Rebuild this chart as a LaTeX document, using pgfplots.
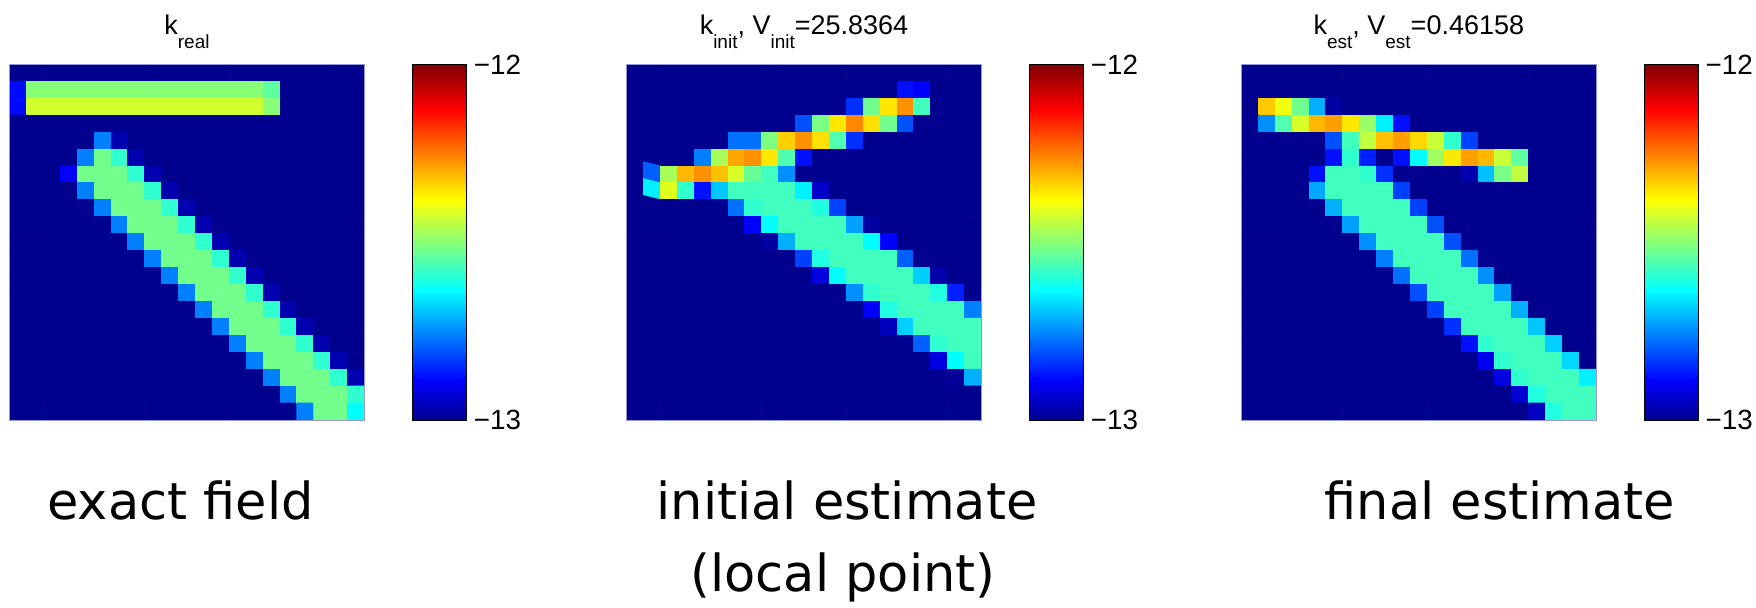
\documentclass[border=0pt]{standalone}
\usepackage{fontspec}
\setmainfont{Liberation Sans}
\newfontfamily\capfont{DejaVu Sans}
\usepackage{pgfplots}
\pgfplotsset{compat=1.18}
\pgfplotsset{
  colormap={mjet}{rgb255(0pt)=(0,0,143); rgb255(7pt)=(0,0,255); rgb255(23pt)=(0,255,255); rgb255(39pt)=(255,255,0); rgb255(55pt)=(255,0,0); rgb255(63pt)=(128,0,0)},
  heat/.style={
    scale only axis, width=177.5pt, height=177.85pt, anchor=north west,
    xmin=-0.5, xmax=20.5, ymin=-0.5, ymax=20.5, y dir=reverse,
    xtick=\empty, ytick=\empty, axis on top,
    axis line style={draw={rgb,255:red,150;green,150;blue,215}, line width=0.5pt},
    colormap name=mjet, point meta min=-13, point meta max=-12,
    title style={at={(0.5,1)}, anchor=base, yshift=9pt, inner sep=0pt, font=\fontsize{13.5}{13.5}\selectfont},
    colorbar,
    colorbar/width=26.85pt,
    colorbar style={
      at={(parent axis.north east)}, anchor=north west, xshift=15.5pt,
      scale only axis, width=26.85pt, height=177.85pt,
      ytick={-13,-12}, yticklabels={−13,−12},
      yticklabel pos=right,
      yticklabel style={font=\fontsize{13.9}{13.9}\selectfont, inner sep=0pt, anchor=west, xshift=3.6pt},
      major tick length=0pt, ytick style={draw=none},
      axis line style={draw=black, line width=0.5pt},
      xtick=\empty,
    },
  },
  cells/.style={matrix plot*, mesh/cols=21, mesh/rows=21, point meta=explicit},
}
\newcommand{\sub}[1]{\raisebox{-7.2pt}{\fontsize{9.5}{9.5}\selectfont #1}}
\begin{document}
\begin{tikzpicture}
\useasboundingbox (0,0) rectangle (878pt,303.5pt);

% ---------- exact field ----------
\begin{axis}[heat, at={(4.75pt,271.35pt)}, title={k\sub{real}}]
\addplot[cells] table[row sep=\\, x expr={mod(\coordindex,21)}, y expr={floor(\coordindex/21)}, meta index=0]{
-13\\ -13\\ -13\\ -13\\ -13\\  -13\\ -13\\ -13\\ -13\\ -13\\  -13\\ -13\\ -13\\ -13\\ -13\\  -13\\ -13\\ -13\\ -13\\ -13\\  -13\\
-12.88\\  -12.5\\ -12.5\\ -12.5\\ -12.5\\ -12.5\\  -12.5\\ -12.5\\ -12.5\\ -12.5\\ -12.5\\  -12.5\\ -12.5\\ -12.5\\ -12.5\\  -12.54\\  -13\\ -13\\ -13\\ -13\\ -13\\
-12.88\\  -12.428\\ -12.428\\ -12.428\\ -12.428\\ -12.428\\  -12.428\\ -12.428\\ -12.428\\ -12.428\\ -12.428\\  -12.428\\ -12.428\\ -12.428\\ -12.428\\  -12.5\\  -13\\ -13\\ -13\\ -13\\ -13\\
-13\\ -13\\ -13\\ -13\\ -13\\  -13\\ -13\\ -13\\ -13\\ -13\\  -13\\ -13\\ -13\\ -13\\ -13\\  -13\\ -13\\ -13\\ -13\\ -13\\  -13\\
-13\\ -13\\ -13\\ -13\\ -13\\  -12.761\\ -12.967\\  -13\\ -13\\ -13\\ -13\\ -13\\  -13\\ -13\\ -13\\ -13\\ -13\\  -13\\ -13\\ -13\\ -13\\
-13\\ -13\\ -13\\ -13\\  -12.761\\ -12.52\\ -12.587\\ -12.967\\  -13\\ -13\\ -13\\ -13\\ -13\\  -13\\ -13\\ -13\\ -13\\ -13\\  -13\\ -13\\ -13\\
-13\\ -13\\ -13\\  -12.889\\ -12.52\\ -12.52\\ -12.52\\ -12.587\\ -12.967\\  -13\\ -13\\ -13\\ -13\\ -13\\  -13\\ -13\\ -13\\ -13\\ -13\\  -13\\ -13\\
-13\\ -13\\ -13\\ -13\\  -12.761\\ -12.52\\ -12.52\\ -12.52\\ -12.587\\ -12.967\\  -13\\ -13\\ -13\\ -13\\ -13\\  -13\\ -13\\ -13\\ -13\\ -13\\  -13\\
-13\\ -13\\ -13\\ -13\\ -13\\  -12.761\\ -12.52\\ -12.52\\ -12.52\\ -12.587\\ -12.967\\  -13\\ -13\\ -13\\ -13\\ -13\\  -13\\ -13\\ -13\\ -13\\ -13\\
-13\\ -13\\ -13\\ -13\\ -13\\  -13\\  -12.761\\ -12.52\\ -12.52\\ -12.52\\ -12.587\\ -12.967\\  -13\\ -13\\ -13\\ -13\\ -13\\  -13\\ -13\\ -13\\ -13\\
-13\\ -13\\ -13\\ -13\\ -13\\  -13\\ -13\\  -12.761\\ -12.52\\ -12.52\\ -12.52\\ -12.587\\ -12.967\\  -13\\ -13\\ -13\\ -13\\ -13\\  -13\\ -13\\ -13\\
-13\\ -13\\ -13\\ -13\\ -13\\  -13\\ -13\\ -13\\  -12.761\\ -12.52\\ -12.52\\ -12.52\\ -12.587\\ -12.967\\  -13\\ -13\\ -13\\ -13\\ -13\\  -13\\ -13\\
-13\\ -13\\ -13\\ -13\\ -13\\  -13\\ -13\\ -13\\ -13\\  -12.761\\ -12.52\\ -12.52\\ -12.52\\ -12.587\\ -12.967\\  -13\\ -13\\ -13\\ -13\\ -13\\  -13\\
-13\\ -13\\ -13\\ -13\\ -13\\  -13\\ -13\\ -13\\ -13\\ -13\\  -12.761\\ -12.52\\ -12.52\\ -12.52\\ -12.587\\ -12.967\\  -13\\ -13\\ -13\\ -13\\ -13\\
-13\\ -13\\ -13\\ -13\\ -13\\  -13\\ -13\\ -13\\ -13\\ -13\\  -13\\  -12.761\\ -12.52\\ -12.52\\ -12.52\\ -12.587\\ -12.967\\  -13\\ -13\\ -13\\ -13\\
-13\\ -13\\ -13\\ -13\\ -13\\  -13\\ -13\\ -13\\ -13\\ -13\\  -13\\ -13\\  -12.761\\ -12.52\\ -12.52\\ -12.52\\ -12.587\\ -12.967\\  -13\\ -13\\ -13\\
-13\\ -13\\ -13\\ -13\\ -13\\  -13\\ -13\\ -13\\ -13\\ -13\\  -13\\ -13\\ -13\\  -12.761\\ -12.52\\ -12.52\\ -12.52\\ -12.587\\ -12.967\\  -13\\ -13\\
-13\\ -13\\ -13\\ -13\\ -13\\  -13\\ -13\\ -13\\ -13\\ -13\\  -13\\ -13\\ -13\\ -13\\  -12.761\\ -12.52\\ -12.52\\ -12.52\\ -12.587\\ -12.967\\  -13\\
-13\\ -13\\ -13\\ -13\\ -13\\  -13\\ -13\\ -13\\ -13\\ -13\\  -13\\ -13\\ -13\\ -13\\ -13\\  -12.761\\ -12.52\\ -12.52\\ -12.52\\ -12.587\\ -12.967\\
-13\\ -13\\ -13\\ -13\\ -13\\  -13\\ -13\\ -13\\ -13\\ -13\\  -13\\ -13\\ -13\\ -13\\ -13\\  -13\\  -12.761\\ -12.52\\ -12.52\\ -12.52\\ -12.587\\
-13\\ -13\\ -13\\ -13\\ -13\\  -13\\ -13\\ -13\\ -13\\ -13\\  -13\\ -13\\ -13\\ -13\\ -13\\  -13\\ -13\\  -12.761\\ -12.52\\ -12.52\\ -12.635\\
};
\end{axis}

% ---------- initial estimate ----------
\begin{axis}[heat, at={(313.25pt,271.35pt)}, title={k\sub{init}, V\sub{init}=25.8364}]
\addplot[cells] table[row sep=\\, x expr={mod(\coordindex,21)}, y expr={floor(\coordindex/21)}, meta index=0]{
-13\\ -13\\ -13\\ -13\\ -13\\  -13\\ -13\\ -13\\ -13\\ -13\\  -13\\ -13\\ -13\\ -13\\ -13\\  -13\\ -13\\ -13\\ -13\\ -13\\  -13\\
-13\\ -13\\ -13\\ -13\\ -13\\  -13\\ -13\\ -13\\ -13\\ -13\\  -13\\ -13\\ -13\\ -13\\ -13\\  -13\\  -12.873\\ -12.89\\  -13\\ -13\\ -13\\
-13\\ -13\\ -13\\ -13\\ -13\\  -13\\ -13\\ -13\\ -13\\ -13\\  -13\\ -13\\ -13\\  -12.841\\ -12.523\\ -12.358\\ -12.27\\ -12.571\\  -13\\ -13\\ -13\\
-13\\ -13\\ -13\\ -13\\ -13\\  -13\\ -13\\ -13\\ -13\\ -13\\  -12.809\\ -12.515\\ -12.358\\ -12.262\\ -12.35\\ -12.523\\ -12.809\\  -13\\ -13\\ -13\\ -13\\
-13\\ -13\\ -13\\ -13\\ -13\\  -13\\  -12.777\\ -12.777\\ -12.507\\ -12.334\\ -12.27\\ -12.35\\ -12.555\\ -12.841\\  -13\\ -13\\ -13\\ -13\\ -13\\  -13\\ -13\\
-13\\ -13\\ -13\\ -13\\  -12.761\\ -12.468\\ -12.294\\ -12.27\\ -12.358\\ -12.555\\ -12.873\\  -13\\ -13\\ -13\\ -13\\ -13\\  -13\\ -13\\ -13\\ -13\\ -13\\
-13\\  -12.793\\ -12.468\\ -12.31\\ -12.27\\ -12.318\\ -12.42\\ -12.531\\ -12.571\\ -12.746\\  -13\\ -13\\ -13\\ -13\\ -13\\  -13\\ -13\\ -13\\ -13\\ -13\\  -13\\
-13\\  -12.65\\ -12.412\\ -12.587\\ -12.873\\ -12.69\\ -12.571\\ -12.571\\ -12.571\\ -12.571\\ -12.65\\ -12.945\\  -13\\ -13\\ -13\\ -13\\ -13\\  -13\\ -13\\ -13\\ -13\\
-13\\ -13\\ -13\\ -13\\ -13\\  -13\\  -12.777\\ -12.587\\ -12.571\\ -12.571\\ -12.571\\ -12.603\\ -12.825\\  -13\\ -13\\ -13\\ -13\\ -13\\  -13\\ -13\\ -13\\
-13\\ -13\\ -13\\ -13\\ -13\\  -13\\ -13\\  -12.889\\ -12.635\\ -12.571\\ -12.571\\ -12.571\\ -12.571\\ -12.73\\ -12.983\\  -13\\ -13\\ -13\\ -13\\ -13\\  -13\\
-13\\ -13\\ -13\\ -13\\ -13\\  -13\\ -13\\ -13\\  -12.983\\ -12.714\\ -12.571\\ -12.571\\ -12.571\\ -12.571\\ -12.635\\ -12.889\\  -13\\ -13\\ -13\\ -13\\ -13\\
-13\\ -13\\ -13\\ -13\\ -13\\  -13\\ -13\\ -13\\ -13\\ -13\\  -12.825\\ -12.603\\ -12.571\\ -12.571\\ -12.571\\ -12.571\\ -12.793\\  -13\\ -13\\ -13\\ -13\\
-13\\ -13\\ -13\\ -13\\ -13\\  -13\\ -13\\ -13\\ -13\\ -13\\  -13\\  -12.92\\ -12.635\\ -12.571\\ -12.571\\ -12.571\\ -12.571\\ -12.682\\ -12.975\\  -13\\ -13\\
-13\\ -13\\ -13\\ -13\\ -13\\  -13\\ -13\\ -13\\ -13\\ -13\\  -13\\ -13\\ -13\\  -12.746\\ -12.587\\ -12.571\\ -12.571\\ -12.571\\ -12.603\\ -12.857\\  -13\\
-13\\ -13\\ -13\\ -13\\ -13\\  -13\\ -13\\ -13\\ -13\\ -13\\  -13\\ -13\\ -13\\ -13\\  -12.889\\ -12.603\\ -12.571\\ -12.571\\ -12.571\\ -12.571\\ -12.761\\
-13\\ -13\\ -13\\ -13\\ -13\\  -13\\ -13\\ -13\\ -13\\ -13\\  -13\\ -13\\ -13\\ -13\\ -13\\  -12.951\\ -12.682\\ -12.571\\ -12.571\\ -12.571\\ -12.571\\
-13\\ -13\\ -13\\ -13\\ -13\\  -13\\ -13\\ -13\\ -13\\ -13\\  -13\\ -13\\ -13\\ -13\\ -13\\  -13\\ -13\\  -12.793\\ -12.587\\ -12.571\\ -12.571\\
-13\\ -13\\ -13\\ -13\\ -13\\  -13\\ -13\\ -13\\ -13\\ -13\\  -13\\ -13\\ -13\\ -13\\ -13\\  -13\\ -13\\ -13\\  -12.92\\ -12.635\\ -12.571\\
-13\\ -13\\ -13\\ -13\\ -13\\  -13\\ -13\\ -13\\ -13\\ -13\\  -13\\ -13\\ -13\\ -13\\ -13\\  -13\\ -13\\ -13\\ -13\\  -12.99\\ -12.714\\
-13\\ -13\\ -13\\ -13\\ -13\\  -13\\ -13\\ -13\\ -13\\ -13\\  -13\\ -13\\ -13\\ -13\\ -13\\  -13\\ -13\\ -13\\ -13\\ -13\\  -13\\
-13\\ -13\\ -13\\ -13\\ -13\\  -13\\ -13\\ -13\\ -13\\ -13\\  -13\\ -13\\ -13\\ -13\\ -13\\  -13\\ -13\\ -13\\ -13\\ -13\\  -13\\
};
\end{axis}

% ---------- final estimate ----------
\begin{axis}[heat, at={(620.65pt,271.35pt)}, title={k\sub{est}, V\sub{est}=0.46158}]
\addplot[cells] table[row sep=\\, x expr={mod(\coordindex,21)}, y expr={floor(\coordindex/21)}, meta index=0]{
-13\\ -13\\ -13\\ -13\\ -13\\  -13\\ -13\\ -13\\ -13\\ -13\\  -13\\ -13\\ -13\\ -13\\ -13\\  -13\\ -13\\ -13\\ -13\\ -13\\  -13\\
-13\\ -13\\ -13\\ -13\\ -13\\  -13\\ -13\\ -13\\ -13\\ -13\\  -13\\ -13\\ -13\\ -13\\ -13\\  -13\\ -13\\ -13\\ -13\\ -13\\  -13\\
-13\\  -12.326\\ -12.396\\ -12.523\\ -12.714\\ -12.983\\  -13\\ -13\\ -13\\ -13\\ -13\\  -13\\ -13\\ -13\\ -13\\ -13\\  -13\\ -13\\ -13\\ -13\\ -13\\
-13\\  -12.746\\ -12.555\\ -12.42\\ -12.31\\ -12.286\\ -12.358\\ -12.484\\ -12.65\\ -12.873\\  -13\\ -13\\ -13\\ -13\\ -13\\  -13\\ -13\\ -13\\ -13\\ -13\\  -13\\
-13\\ -13\\ -13\\ -13\\ -13\\  -12.809\\ -12.571\\ -12.444\\ -12.318\\ -12.286\\ -12.342\\ -12.436\\ -12.587\\ -12.825\\  -13\\ -13\\ -13\\ -13\\ -13\\  -13\\ -13\\
-13\\ -13\\ -13\\ -13\\ -13\\  -12.873\\ -12.587\\ -12.857\\ -13\\ -12.873\\ -12.635\\ -12.476\\ -12.358\\ -12.286\\ -12.31\\ -12.436\\ -12.539\\  -13\\ -13\\ -13\\ -13\\
-13\\ -13\\ -13\\ -13\\  -12.873\\ -12.571\\ -12.571\\ -12.587\\ -12.841\\  -13\\ -13\\ -13\\ -13\\  -12.967\\ -12.698\\ -12.515\\ -12.444\\  -13\\ -13\\ -13\\ -13\\
-13\\ -13\\ -13\\ -13\\  -12.722\\ -12.571\\ -12.571\\ -12.571\\ -12.571\\ -12.825\\  -13\\ -13\\ -13\\ -13\\ -13\\  -13\\ -13\\ -13\\ -13\\ -13\\  -13\\
-13\\ -13\\ -13\\ -13\\ -13\\  -12.714\\ -12.571\\ -12.571\\ -12.571\\ -12.571\\ -12.825\\  -13\\ -13\\ -13\\ -13\\ -13\\  -13\\ -13\\ -13\\ -13\\ -13\\
-13\\ -13\\ -13\\ -13\\ -13\\  -13\\  -12.73\\ -12.571\\ -12.571\\ -12.571\\ -12.571\\ -12.809\\  -13\\ -13\\ -13\\ -13\\ -13\\  -13\\ -13\\ -13\\ -13\\
-13\\ -13\\ -13\\ -13\\ -13\\  -13\\ -13\\  -12.746\\ -12.571\\ -12.571\\ -12.571\\ -12.571\\ -12.809\\  -13\\ -13\\ -13\\ -13\\ -13\\  -13\\ -13\\ -13\\
-13\\ -13\\ -13\\ -13\\ -13\\  -13\\ -13\\ -13\\  -12.761\\ -12.571\\ -12.571\\ -12.571\\ -12.571\\ -12.777\\  -13\\ -13\\ -13\\ -13\\ -13\\  -13\\ -13\\
-13\\ -13\\ -13\\ -13\\ -13\\  -13\\ -13\\ -13\\ -13\\  -12.777\\ -12.571\\ -12.571\\ -12.571\\ -12.571\\ -12.746\\  -13\\ -13\\ -13\\ -13\\ -13\\  -13\\
-13\\ -13\\ -13\\ -13\\ -13\\  -13\\ -13\\ -13\\ -13\\ -13\\  -12.809\\ -12.571\\ -12.571\\ -12.571\\ -12.571\\ -12.73\\  -13\\ -13\\ -13\\ -13\\ -13\\
-13\\ -13\\ -13\\ -13\\ -13\\  -13\\ -13\\ -13\\ -13\\ -13\\  -13\\  -12.825\\ -12.571\\ -12.571\\ -12.571\\ -12.571\\ -12.714\\  -13\\ -13\\ -13\\ -13\\
-13\\ -13\\ -13\\ -13\\ -13\\  -13\\ -13\\ -13\\ -13\\ -13\\  -13\\ -13\\  -12.841\\ -12.571\\ -12.571\\ -12.571\\ -12.571\\ -12.69\\  -13\\ -13\\ -13\\
-13\\ -13\\ -13\\ -13\\ -13\\  -13\\ -13\\ -13\\ -13\\ -13\\  -13\\ -13\\ -13\\  -12.873\\ -12.587\\ -12.571\\ -12.571\\ -12.571\\ -12.682\\  -13\\ -13\\
-13\\ -13\\ -13\\ -13\\ -13\\  -13\\ -13\\ -13\\ -13\\ -13\\  -13\\ -13\\ -13\\ -13\\  -12.904\\ -12.587\\ -12.571\\ -12.571\\ -12.571\\ -12.674\\  -13\\
-13\\ -13\\ -13\\ -13\\ -13\\  -13\\ -13\\ -13\\ -13\\ -13\\  -13\\ -13\\ -13\\ -13\\ -13\\  -12.92\\ -12.587\\ -12.571\\ -12.571\\ -12.571\\ -12.65\\
-13\\ -13\\ -13\\ -13\\ -13\\  -13\\ -13\\ -13\\ -13\\ -13\\  -13\\ -13\\ -13\\ -13\\ -13\\  -13\\  -12.936\\ -12.603\\ -12.571\\ -12.571\\ -12.571\\
-13\\ -13\\ -13\\ -13\\ -13\\  -13\\ -13\\ -13\\ -13\\ -13\\  -13\\ -13\\ -13\\ -13\\ -13\\  -13\\ -13\\  -12.951\\ -12.603\\ -12.571\\ -12.571\\
};
\end{axis}

% ---------- captions ----------
\tikzset{captxt/.style={inner sep=0pt, font=\capfont\fontsize{25.5}{25.5}\selectfont}}
\node[captxt, anchor=base west] at (23.5pt,44pt) {exact field};
\node[captxt, anchor=base] at (423.5pt,44pt) {initial estimate};
\node[captxt, anchor=base] at (421.5pt,8pt) {(local point)};
\node[captxt, anchor=base] at (750pt,44pt) {final estimate};
\end{tikzpicture}
\end{document}
